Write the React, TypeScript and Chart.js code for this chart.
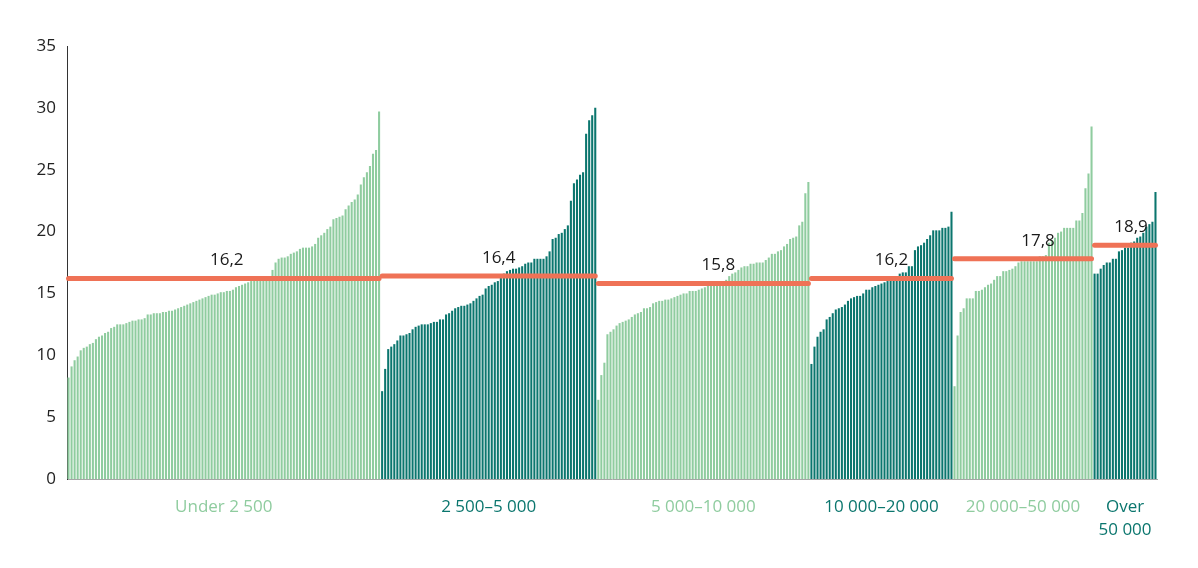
import React, { useEffect, useRef } from "react";
import { Chart, registerables } from "chart.js";

Chart.register(...registerables);

// Municipalities sorted by value within each population group
const under2500 = [
  8.2, 9.1, 9.6, 9.9, 10.4, 10.6, 10.7, 10.9, 11.0, 11.3,
  11.5, 11.6, 11.8, 11.9, 12.2, 12.3, 12.5, 12.5, 12.5, 12.6,
  12.7, 12.8, 12.8, 12.9, 12.9, 13.0, 13.3, 13.3, 13.4, 13.4,
  13.4, 13.5, 13.5, 13.6, 13.6, 13.7, 13.8, 13.9, 14.0, 14.1,
  14.2, 14.3, 14.4, 14.5, 14.6, 14.7, 14.8, 14.9, 14.9, 15.0,
  15.1, 15.1, 15.2, 15.2, 15.3, 15.5, 15.6, 15.7, 15.8, 15.9,
  16.0,
  16.2, 16.3, 16.3, 16.3, 16.4, 16.4, 16.9, 17.5, 17.8, 17.9,
  17.9, 18.0, 18.2, 18.3, 18.4, 18.6, 18.7, 18.7, 18.7, 18.8,
  19.0, 19.5, 19.7, 19.9, 20.2, 20.4, 21.0, 21.1, 21.2, 21.3,
  21.8, 22.1, 22.4, 22.6, 23.0, 23.8, 24.4, 24.8, 25.3, 26.3,
  26.6, 29.7,
];
const from2500to5000 = [
  7.1, 8.9, 10.5, 10.7, 10.9, 11.2, 11.6, 11.6, 11.7, 11.8,
  12.1, 12.3, 12.4, 12.5, 12.5, 12.5, 12.6, 12.7, 12.7, 12.9,
  12.9, 13.3, 13.4, 13.6, 13.8, 13.9, 14.0, 14.0, 14.1, 14.2,
  14.4, 14.6, 14.8, 14.9, 15.4, 15.6, 15.7, 15.9, 16.0, 16.3,
  16.6, 16.8, 16.9, 17.0, 17.0, 17.1, 17.2, 17.4, 17.5, 17.5,
  17.8, 17.8, 17.8, 17.8, 18.0, 18.4, 19.4, 19.5, 19.8, 19.9,
  20.2, 20.5, 22.5, 23.9, 24.2, 24.6, 24.8, 27.9, 29.0, 29.4,
  30.0,
];
const from5000to10000 = [
  6.4, 8.4, 9.4, 11.7, 11.9, 12.1, 12.4, 12.6, 12.7, 12.8,
  12.9, 13.1, 13.3, 13.4, 13.5, 13.8, 13.8, 13.9, 14.2, 14.3,
  14.4, 14.4, 14.5, 14.5, 14.6, 14.7, 14.8, 14.9, 15.0, 15.0,
  15.2, 15.2, 15.2, 15.3, 15.4, 15.5, 15.6, 15.7, 15.8, 15.8,
  15.9, 15.9, 16.1, 16.4, 16.6, 16.7, 16.9, 17.1, 17.2, 17.2,
  17.4, 17.4, 17.5, 17.5, 17.5, 17.7, 17.9, 18.2, 18.2, 18.4,
  18.5, 18.8, 19.0, 19.4, 19.5, 19.6, 20.5, 20.8, 23.1, 24.0,
];
const from10000to20000 = [
  9.3, 10.7, 11.5, 11.9, 12.1, 12.9, 13.1, 13.4, 13.7, 13.8,
  13.9, 14.1, 14.4, 14.6, 14.7, 14.8, 14.8, 15.0, 15.3, 15.3,
  15.5, 15.6, 15.7, 15.8, 15.9, 16.0, 16.1, 16.1, 16.1, 16.6,
  16.7, 16.7, 17.2, 17.2, 18.5, 18.8, 18.9, 19.1, 19.4, 19.7,
  20.1, 20.1, 20.1, 20.3, 20.3, 20.4, 21.6,
];
const from20000to50000 = [
  7.5, 11.6, 13.5, 13.8, 14.6, 14.6, 14.6, 15.2, 15.2, 15.3,
  15.5, 15.7, 15.8, 16.1, 16.4, 16.4, 16.8, 16.8, 16.9, 17.0,
  17.2, 17.5, 17.6, 17.6, 17.6, 17.6, 17.6, 17.6, 18.0, 18.0,
  18.1, 19.1, 19.3, 19.5, 19.9, 20.0, 20.3, 20.3, 20.3, 20.3,
  20.9, 20.9, 21.5, 23.5, 24.7, 28.5,
];
const over50000 = [
  16.6, 16.6, 17.0, 17.3, 17.5, 17.5, 17.8, 17.8, 18.4, 18.5,
  18.7, 18.7, 19.1, 19.2, 19.5, 19.6, 19.9, 20.4, 20.6, 20.8,
  23.2,
];

const groupSeries = [under2500, from2500to5000, from5000to10000, from10000to20000, from20000to50000, over50000];
const groupLabels = [["Under 2 500"], ["2 500–5 000"], ["5 000–10 000"], ["10 000–20 000"], ["20 000–50 000"], ["Over", "50 000"]];
const groupAverages = [16.2, 16.4, 15.8, 16.2, 17.8, 18.9];
const averageLabels = ["16,2", "16,4", "15,8", "16,2", "17,8", "18,9"];
const yTicks = [0, 5, 10, 15, 20, 25, 30, 35];

const LIGHT = "#8fcc9f";
const DARK = "#0b766e";
const ORANGE = "#ef7256";
const FONT = "'Open Sans', sans-serif";

export default function App() {
  const ref = useRef<HTMLCanvasElement | null>(null);

  useEffect(() => {
    if (!ref.current) return;
    const values: number[] = [];
    const colors: string[] = [];
    const ranges: { start: number; end: number }[] = [];
    groupSeries.forEach((s, g) => {
      const start = values.length;
      s.forEach((v) => {
        values.push(v);
        colors.push(g % 2 === 0 ? LIGHT : DARK);
      });
      ranges.push({ start, end: values.length - 1 });
    });
    const total = values.length;
    const labels = values.map((_, i) => String(i));

    const lineSets = groupAverages.map((avg, g) => {
      const d: (number | null)[] = new Array(total).fill(null);
      for (let i = ranges[g].start; i <= ranges[g].end; i++) d[i] = avg;
      return {
        type: "line" as const,
        data: d,
        borderColor: ORANGE,
        backgroundColor: ORANGE,
        borderWidth: 5,
        borderCapStyle: "round" as const,
        pointRadius: 0,
        pointHoverRadius: 0,
        spanGaps: false,
        order: 1,
      };
    });

    const labelOffsets = [3, 10, 15, 10, 15, 6];

    const annotate = {
      id: "annotate",
      afterDraw(chart: any) {
        const { ctx, scales } = chart;
        const x = scales.x;
        const y = scales.y;
        ctx.save();
        ctx.textAlign = "center";
        ctx.textBaseline = "middle";
        ranges.forEach((r, g) => {
          const left = x.getPixelForValue(r.start) - x.width / total / 2;
          const right = x.getPixelForValue(r.end) + x.width / total / 2;
          const cx = (left + right) / 2;
          ctx.font = `17px ${FONT}`;
          ctx.fillStyle = g % 2 === 0 ? LIGHT : DARK;
          groupLabels[g].forEach((t, li) => {
            ctx.fillText(t, cx, 507 + li * 23);
          });
          ctx.font = `17px ${FONT}`;
          ctx.fillStyle = "#1a1a1a";
          ctx.fillText(averageLabels[g], cx + labelOffsets[g], y.getPixelForValue(groupAverages[g]) - 18);
        });
        ctx.restore();
      },
    };

    const chart = new Chart(ref.current, {
      type: "bar",
      data: {
        labels,
        datasets: [
          {
            type: "bar",
            data: values,
            backgroundColor: colors,
            borderWidth: 0,
            barPercentage: 0.68,
            categoryPercentage: 1,
            order: 2,
          } as any,
          ...(lineSets as any[]),
        ],
      },
      options: {
        animation: false,
        responsive: false,
        devicePixelRatio: 1,
        layout: { padding: { left: 0, right: 41, top: 46, bottom: 0 } },
        plugins: { legend: { display: false }, tooltip: { enabled: false } },
        scales: {
          x: {
            type: "category",
            offset: true,
            grid: { display: false, drawTicks: false },
            border: { display: true, color: "#a6a6a6", width: 1 },
            ticks: { display: false },
            afterFit(scale: any) {
              scale.height = 89;
            },
          },
          y: {
            min: 0,
            max: 35,
            afterBuildTicks(scale: any) {
              scale.ticks = yTicks.map((v) => ({ value: v }));
            },
            grid: { display: false, drawTicks: false },
            border: { display: true, color: "#333333", width: 1 },
            ticks: {
              color: "#222222",
              font: { family: FONT, size: 17 },
              padding: 11,
            },
            afterFit(scale: any) {
              scale.width = 67;
            },
          },
        },
      },
      plugins: [annotate],
    });
    return () => chart.destroy();
  }, []);

  return (
    <div style={{ position: "absolute", left: 0, top: 0, width: 1198, height: 568, background: "#fff" }}>
      <canvas ref={ref} width={1198} height={568} />
    </div>
  );
}
